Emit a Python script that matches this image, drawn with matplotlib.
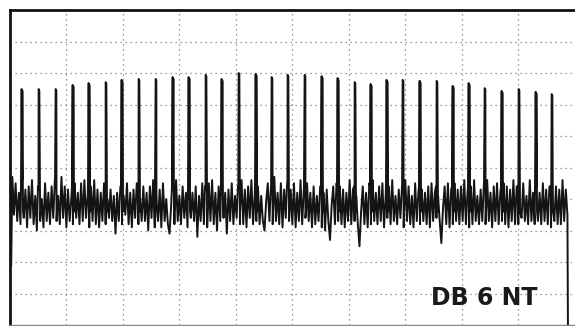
import numpy as np
import matplotlib
matplotlib.use("Agg")
import matplotlib.pyplot as plt

# spike positions (divisions) and peak levels (divisions)
spike_t = [0.221, 0.522, 0.823, 1.124, 1.407, 1.708, 1.991, 2.292, 2.593, 2.894,
           3.177, 3.478, 3.761, 4.062, 4.363, 4.646, 4.929, 5.230, 5.531, 5.814,
           6.115, 6.398, 6.681, 6.965, 7.265, 7.566, 7.850, 8.133, 8.416, 8.717,
           9.018, 9.319, 9.602]
spike_peak = [7.49, 7.49, 7.49, 7.62, 7.68, 7.71, 7.78, 7.81, 7.81, 7.87,
              7.87, 7.94, 7.81, 8.00, 7.97, 7.87, 7.94, 7.94, 7.90, 7.84,
              7.71, 7.65, 7.78, 7.78, 7.75, 7.75, 7.59, 7.68, 7.52, 7.43,
              7.49, 7.40, 7.33]

# baseline noise, one group of samples per spike interval
noise = [
    4.7, 3.5, 4.5, 3.3, 4.2, 3.2, 4.6, 3.4, 4.3, 3.1,
    4.4, 3.4, 4.6, 3.2, 4.1, 3.0, 4.3, 3.3, 4.0, 3.1,
    4.5, 3.3, 4.2, 3.2, 4.4, 3.4, 4.6, 3.3, 4.1, 3.2,
    4.7, 3.4, 4.4, 3.1, 4.3, 3.3, 4.0, 3.2, 4.5, 3.4,
    4.2, 3.2, 4.5, 3.3, 4.6, 3.4, 4.1, 3.1, 4.4, 3.3,
    4.6, 3.2, 4.3, 3.1, 4.2, 3.3, 4.5, 3.2, 4.0, 3.4,
    4.3, 3.3, 4.1, 2.9, 4.2, 3.3, 4.4, 3.2, 4.1, 3.5,
    4.5, 3.2, 4.2, 3.1, 4.3, 3.4, 4.5, 3.2, 4.0, 3.3,
    4.4, 3.3, 4.2, 3.0, 4.4, 3.4, 4.6, 3.1, 4.2, 3.3,
    4.3, 3.1, 4.5, 3.3, 4.0, 3.2, 2.9, 3.8, 4.3, 3.2,
    4.6, 3.3, 4.1, 3.2, 4.4, 3.4, 4.2, 3.1, 4.0, 3.4,
    4.2, 3.3, 4.4, 2.8, 4.1, 3.3, 4.5, 3.2, 4.3, 3.1,
    4.5, 3.3, 4.6, 3.2, 4.2, 3.0, 4.4, 3.3, 4.1, 3.4,
    4.2, 2.9, 4.3, 3.3, 4.5, 3.2, 4.1, 3.4, 4.4, 3.2,
    4.6, 3.2, 4.3, 3.1, 4.4, 3.4, 4.6, 3.2, 4.1, 3.3,
    4.4, 3.2, 4.1, 3.3, 3.0, 3.9, 4.5, 3.3, 4.2, 3.2,
    4.7, 3.3, 4.2, 3.2, 4.5, 3.1, 4.3, 3.4, 4.6, 3.3,
    4.3, 3.2, 4.5, 3.1, 4.2, 3.3, 4.6, 3.2, 4.3, 3.4,
    4.5, 3.3, 4.2, 3.1, 4.4, 3.2, 4.1, 3.3, 4.4, 3.1,
    4.2, 3.0, 4.3, 3.3, 2.7, 3.8, 4.4, 3.2, 4.5, 3.3,
    4.4, 3.2, 4.3, 3.1, 4.2, 3.3, 4.6, 3.2, 4.3, 3.3,
    4.1, 3.2, 2.5, 3.6, 4.4, 3.2, 4.2, 3.1, 4.5, 3.2,
    4.6, 3.3, 4.2, 3.2, 4.4, 3.3, 4.5, 3.1, 4.1, 3.4,
    4.4, 3.2, 4.6, 3.3, 4.1, 3.2, 4.3, 3.4, 4.2, 3.1,
    4.6, 3.3, 4.4, 3.2, 4.1, 3.1, 4.5, 3.3, 4.2, 3.2,
    4.3, 3.3, 4.2, 3.2, 4.4, 3.1, 4.5, 3.3, 4.2, 3.4,
    4.1, 3.3, 2.6, 3.7, 4.4, 3.2, 4.5, 3.1, 4.3, 3.2,
    4.5, 3.3, 4.3, 3.2, 4.4, 3.3, 4.6, 3.2, 4.2, 3.1,
    4.4, 3.2, 4.6, 3.3, 4.1, 3.2, 4.3, 3.3, 4.5, 3.2,
    4.6, 3.3, 4.2, 3.1, 4.4, 3.3, 4.5, 3.2, 4.2, 3.3,
    4.5, 3.2, 4.4, 3.1, 4.3, 3.3, 4.6, 3.2, 4.4, 3.2,
    4.2, 3.4, 4.5, 3.3, 4.1, 3.2, 4.6, 3.3, 4.2, 3.2,
    4.4, 3.3, 4.2, 3.2, 4.5, 3.3, 4.3, 3.2, 4.4, 3.1,
    4.6, 3.3, 4.4, 3.2, 4.3, 3.2, 4.6, 3.3, 4.3, 3.5,
]
sweep_start, sweep_end = 0.03, 9.885
start_low = 1.9     # trace drops at the left edge
end_low = -0.5      # trace drops off at the right edge
label = "DB 6 NT"

t_noise = np.linspace(sweep_start + 0.02, sweep_end - 0.01, len(noise))
t = list(t_noise)
v = list(noise)
for st, pk in zip(spike_t, spike_peak):
    t += [st - 0.018, st - 0.006, st + 0.006, st + 0.018]
    v += [4.4, pk, pk - 0.05, 3.6]
order = np.argsort(t, kind="stable")
t = [sweep_start] + list(np.array(t)[order]) + [sweep_end]
v = [start_low] + list(np.array(v)[order]) + [end_low]

fig = plt.figure(figsize=(5.75, 3.26), dpi=100)
ax = fig.add_axes([9.5 / 575, 1 / 326, 565 / 575, 315 / 326])
ax.set_xlim(0, 10)
ax.set_ylim(0, 10)

for g in range(1, 10):
    ax.axvline(g, color="#7a7a7a", lw=0.9, ls=(0, (1, 3)), zorder=1)
    ax.axhline(g, color="#7a7a7a", lw=0.9, ls=(0, (1, 3)), zorder=1)

ax.plot(t, v, color="#141414", lw=1.4, zorder=3)

ax.text(8.40, 0.86, label, ha="center", va="center", fontsize=17,
        family="DejaVu Sans", fontweight="bold", color="#1a1a1a", zorder=4)

ax.set_xticks([])
ax.set_yticks([])
for side in ("left", "top"):
    ax.spines[side].set_linewidth(2.0)
    ax.spines[side].set_color("#111111")
ax.spines["bottom"].set_linewidth(1.0)
ax.spines["bottom"].set_color("#888888")
ax.spines["right"].set_visible(False)

fig.savefig("out.png", dpi=100)
